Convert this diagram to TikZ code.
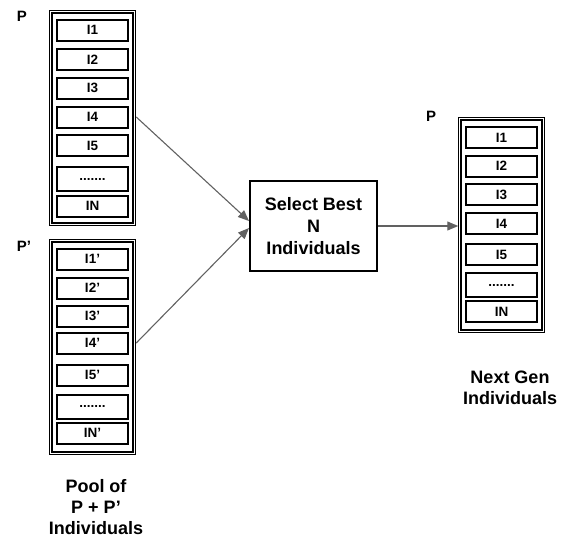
\documentclass[tikz,border=0pt]{standalone}
\usepackage{fontspec}
\setmainfont{Liberation Sans}
\usetikzlibrary{arrows.meta}

\begin{document}
\begin{tikzpicture}[x=1pt,y=-1pt,
  item/.style={draw=black, line width=2pt, minimum width=71pt, minimum height=21pt,
    inner sep=0pt, font=\fontsize{13.5}{15}\selectfont\bfseries},
  dotitem/.style={item, minimum height=24pt},
  pool/.style={draw=black, line width=1pt, minimum width=86pt, minimum height=215pt, inner sep=0pt},
  poolinner/.style={draw=black, line width=1.7pt},
  lbl/.style={font=\fontsize{15}{17}\selectfont\bfseries, inner sep=0pt},
  caption/.style={font=\fontsize{18}{21}\selectfont\bfseries, align=center, inner sep=0pt},
  selbox/.style={draw=black, line width=2pt, minimum width=127pt, minimum height=90pt,
    align=center, inner sep=0pt, font=\fontsize{18}{22}\selectfont\bfseries},
  arr/.style={draw=black!62, line width=1.1pt, -{Triangle[length=11pt,width=9pt]}}
]
\useasboundingbox (0,0) rectangle (561,541);

% ---- population P (top left)
\node[pool] (popA) at (92.75,118) {};
\draw[poolinner] ([shift={(3,3)}]popA.north west) rectangle ([shift={(-3,-3)}]popA.south east);
\node[item] (a1) at (92.5,30) {I1};
\node[item] (a2) at (92.5,59.5) {I2};
\node[item] (a3) at (92.5,88) {I3};
\node[item] (a4) at (92.5,117) {I4};
\node[item] (a5) at (92.5,145.5) {I5};
\node[dotitem] (a6) at (92.5,179) {.......};
\node[item] (a7) at (92.5,206) {IN};
\node[lbl] (labA) at (22,16) {P};

% ---- offspring P' (bottom left)
\node[pool] (popB) at (92.75,347) {};
\draw[poolinner] ([shift={(3,3)}]popB.north west) rectangle ([shift={(-3,-3)}]popB.south east);
\node[item] (b1) at (92.5,259) {I1’};
\node[item] (b2) at (92.5,288) {I2’};
\node[item] (b3) at (92.5,316) {I3’};
\node[item] (b4) at (92.5,343) {I4’};
\node[item] (b5) at (92.5,375) {I5’};
\node[dotitem] (b6) at (92.5,406.5) {.......};
\node[item] (b7) at (92.5,433) {IN’};
\node[lbl] (labB) at (24,246) {P’};

\node[caption] (capPool) at (96,507) {Pool of\\P + P’\\Individuals};

% ---- selection step
\node[selbox] (sel) at (313.5,226) {Select Best\\N\\Individuals};

% ---- next generation P (right)
\node[pool] (popC) at (501.75,225) {};
\draw[poolinner] ([shift={(3,3)}]popC.north west) rectangle ([shift={(-3,-3)}]popC.south east);
\node[item] (c1) at (501.5,137.5) {I1};
\node[item] (c2) at (501.5,166) {I2};
\node[item] (c3) at (501.5,194.5) {I3};
\node[item] (c4) at (501.5,223.5) {I4};
\node[item] (c5) at (501.5,254.5) {I5};
\node[dotitem] (c6) at (501.5,285) {.......};
\node[item] (c7) at (501.5,311.5) {IN};
\node[lbl] (labC) at (431,116) {P};

\node[caption] (capNext) at (510,387.5) {Next Gen\\Individuals};

% ---- connectors
\draw[arr] (popA.east |- a4) -- ([yshift=5pt]sel.west);
\draw[arr] (popB.east |- b4) -- ([yshift=-2pt]sel.west);
\draw[arr] (sel.east) -- (sel.east -| popC.west);
\end{tikzpicture}
\end{document}
